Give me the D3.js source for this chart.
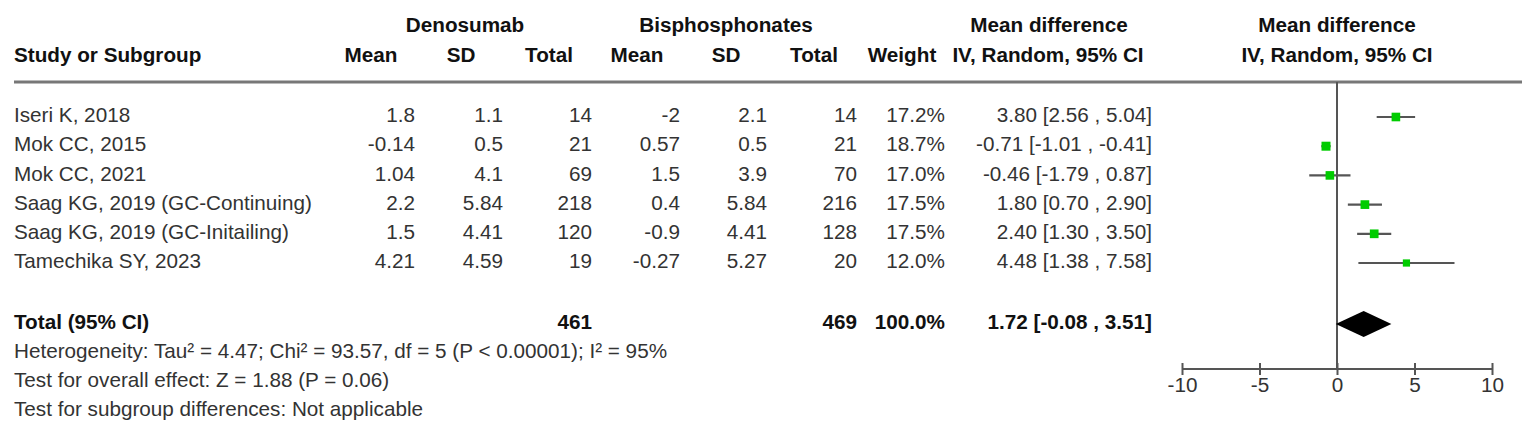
<!DOCTYPE html>
<html>
<head>
<meta charset="utf-8">
<script src="https://cdn.jsdelivr.net/npm/d3@7"></script>
<style>
  body { margin: 0; background: #fff; }
  text { font-family: "Liberation Sans", Arial, sans-serif; }
</style>
</head>
<body>
<svg id="svg1"></svg>
<script>
const width = 1535;
const height = 443;

// study data
const studies = ["Iseri K, 2018", "Mok CC, 2015", "Mok CC, 2021",
    "Saag KG, 2019 (GC-Continuing)", "Saag KG, 2019 (GC-Initailing)", "Tamechika SY, 2023"];
const denMean = [1.8, -0.14, 1.04, 2.2, 1.5, 4.21];
const denSD = [1.1, 0.5, 4.1, 5.84, 4.41, 4.59];
const denTotal = [14, 21, 69, 218, 120, 19];
const bisMean = [-2, 0.57, 1.5, 0.4, -0.9, -0.27];
const bisSD = [2.1, 0.5, 3.9, 5.84, 4.41, 5.27];
const bisTotal = [14, 21, 70, 216, 128, 20];
const weights = [17.2, 18.7, 17.0, 17.5, 17.5, 12.0];
const md = [3.80, -0.71, -0.46, 1.80, 2.40, 4.48];
const ciLow = [2.56, -1.01, -1.79, 0.70, 1.30, 1.38];
const ciHigh = [5.04, -0.41, 0.87, 2.90, 3.50, 7.58];

// pooled result
const totalDen = 461;
const totalBis = 469;
const totalWeight = 100.0;
const pooled = [1.72, -0.08, 3.51]; // estimate, low, high

const axisTicks = [-10, -5, 0, 5, 10];
const footnotes = [
    "Heterogeneity: Tau\u00b2 = 4.47; Chi\u00b2 = 93.57, df = 5 (P < 0.00001); I\u00b2 = 95%",
    "Test for overall effect: Z = 1.88 (P = 0.06)",
    "Test for subgroup differences: Not applicable"
];

const fs = 20.7;
const locale = d3.formatLocale({decimal: ".", thousands: ",", grouping: [3], currency: ["", ""], minus: "-"});
const f2 = locale.format(".2f");
const f1 = locale.format(".1f");
const ciText = (m, l, h) => `${f2(m)} [${f2(l)} , ${f2(h)}]`;

const svg = d3.select("#svg1").attr("width", width).attr("height", height)
    .attr("viewBox", [0, 0, width, height]);

const x = d3.scaleLinear([-10, 10], [1182, 1492]);
const y = d3.scalePoint(studies, [115, 261]);
const yTotal = 322;
const markOff = 2; // plot marks sit a little below the text centre
const size = d3.scaleSqrt([0, 18.7], [0, 9]);

// column right edges for the numeric columns
const cols = [
    {key: "denMean", data: denMean, right: 415, head: "Mean", hx: 371},
    {key: "denSD", data: denSD, right: 503, head: "SD", hx: 461},
    {key: "denTotal", data: denTotal, right: 592, head: "Total", hx: 549},
    {key: "bisMean", data: bisMean, right: 680, head: "Mean", hx: 637},
    {key: "bisSD", data: bisSD, right: 767, head: "SD", hx: 726},
    {key: "bisTotal", data: bisTotal, right: 857, head: "Total", hx: 814},
    {key: "weight", data: weights.map(w => f1(w) + "%"), right: 945, head: "Weight", hx: 902},
    {key: "ci", data: md.map((m, i) => ciText(m, ciLow[i], ciHigh[i])), right: 1152, head: "IV, Random, 95% CI", hx: 1048}
];

// headers
const head = svg.append("g").attr("font-size", fs).attr("font-weight", "bold").attr("fill", "#111");
head.selectAll("text.group")
    .data([["Denosumab", 465], ["Bisphosphonates", 726], ["Mean difference", 1049], ["Mean difference", 1337]])
    .join("text").attr("class", "group")
    .attr("x", d => d[1]).attr("y", 25).attr("dy", "0.35em").attr("text-anchor", "middle")
    .text(d => d[0]);
head.append("text").attr("x", 14).attr("y", 55).attr("dy", "0.35em").text("Study or Subgroup");
head.selectAll("text.col")
    .data(cols.concat([{head: "IV, Random, 95% CI", hx: 1337}]))
    .join("text").attr("class", "col")
    .attr("x", d => d.hx).attr("y", 55).attr("dy", "0.35em").attr("text-anchor", "middle")
    .text(d => d.head);

// header rule
svg.append("line").attr("x1", 14).attr("x2", 1522).attr("y1", 82).attr("y2", 82)
    .attr("stroke", "#777").attr("stroke-width", 3);

// study rows
const body = svg.append("g").attr("font-size", fs).attr("fill", "#333");
body.selectAll("text.name").data(studies).join("text").attr("class", "name")
    .attr("x", 14).attr("y", d => y(d)).attr("dy", "0.35em").text(d => d);
cols.forEach(c => {
    body.selectAll(`text.${c.key}`).data(c.data).join("text").attr("class", c.key)
        .attr("x", c.right).attr("y", (d, i) => y(studies[i])).attr("dy", "0.35em")
        .attr("text-anchor", "end").text(d => d);
});

// total row
const tot = svg.append("g").attr("font-size", fs).attr("font-weight", "bold").attr("fill", "#111");
tot.append("text").attr("x", 14).attr("y", yTotal).attr("dy", "0.35em").text("Total (95% CI)");
tot.selectAll("text.v")
    .data([[totalDen, 592], [totalBis, 857], [f1(totalWeight) + "%", 945], [ciText(...pooled), 1152]])
    .join("text").attr("class", "v")
    .attr("x", d => d[1]).attr("y", yTotal).attr("dy", "0.35em").attr("text-anchor", "end")
    .text(d => d[0]);

// footnotes
svg.append("g").attr("font-size", fs).attr("fill", "#333")
    .selectAll("text").data(footnotes).join("text")
    .attr("x", 14).attr("y", (d, i) => 351 + i * 29).attr("dy", "0.35em").text(d => d);

// forest plot: zero line
const axisY = 369;
svg.append("line").attr("x1", x(0)).attr("x2", x(0)).attr("y1", 82).attr("y2", axisY)
    .attr("stroke", "#555").attr("stroke-width", 2);

// confidence intervals
svg.append("g").attr("stroke", "#555").attr("stroke-width", 2.2)
    .selectAll("line").data(studies).join("line")
    .attr("x1", (d, i) => x(ciLow[i])).attr("x2", (d, i) => x(ciHigh[i]))
    .attr("y1", d => y(d) + markOff).attr("y2", d => y(d) + markOff);

// weight squares
svg.append("g").attr("fill", "#00cc00")
    .selectAll("rect").data(studies).join("rect")
    .attr("x", (d, i) => x(md[i]) - size(weights[i]) / 2)
    .attr("y", (d, i) => y(d) + markOff - size(weights[i]) / 2)
    .attr("width", (d, i) => size(weights[i]))
    .attr("height", (d, i) => size(weights[i]));

// pooled diamond
const dh = 13;
svg.append("path").attr("fill", "#000")
    .attr("d", d3.line()([
        [x(pooled[1]), yTotal + 2], [x(pooled[0]), yTotal + 2 - dh],
        [x(pooled[2]), yTotal + 2], [x(pooled[0]), yTotal + 2 + dh]
    ]) + "Z");

// axis
const axis = svg.append("g").attr("transform", `translate(0,${axisY})`)
    .call(d3.axisBottom(x).tickValues(axisTicks).tickSize(6).tickSizeOuter(0).tickFormat(locale.format("d")));
axis.select(".domain").attr("stroke", "#555").attr("stroke-width", 2).attr("d", `M${x(-10)},0H${x(10)}`);
axis.selectAll(".tick line").attr("stroke", "#555").attr("stroke-width", 2).attr("y1", -6).attr("y2", 6);
axis.selectAll(".tick text").attr("font-size", fs).attr("font-family", "Liberation Sans, Arial, sans-serif")
    .attr("fill", "#333").attr("y", 8).attr("dy", "0.71em");
</script>
</body>
</html>
